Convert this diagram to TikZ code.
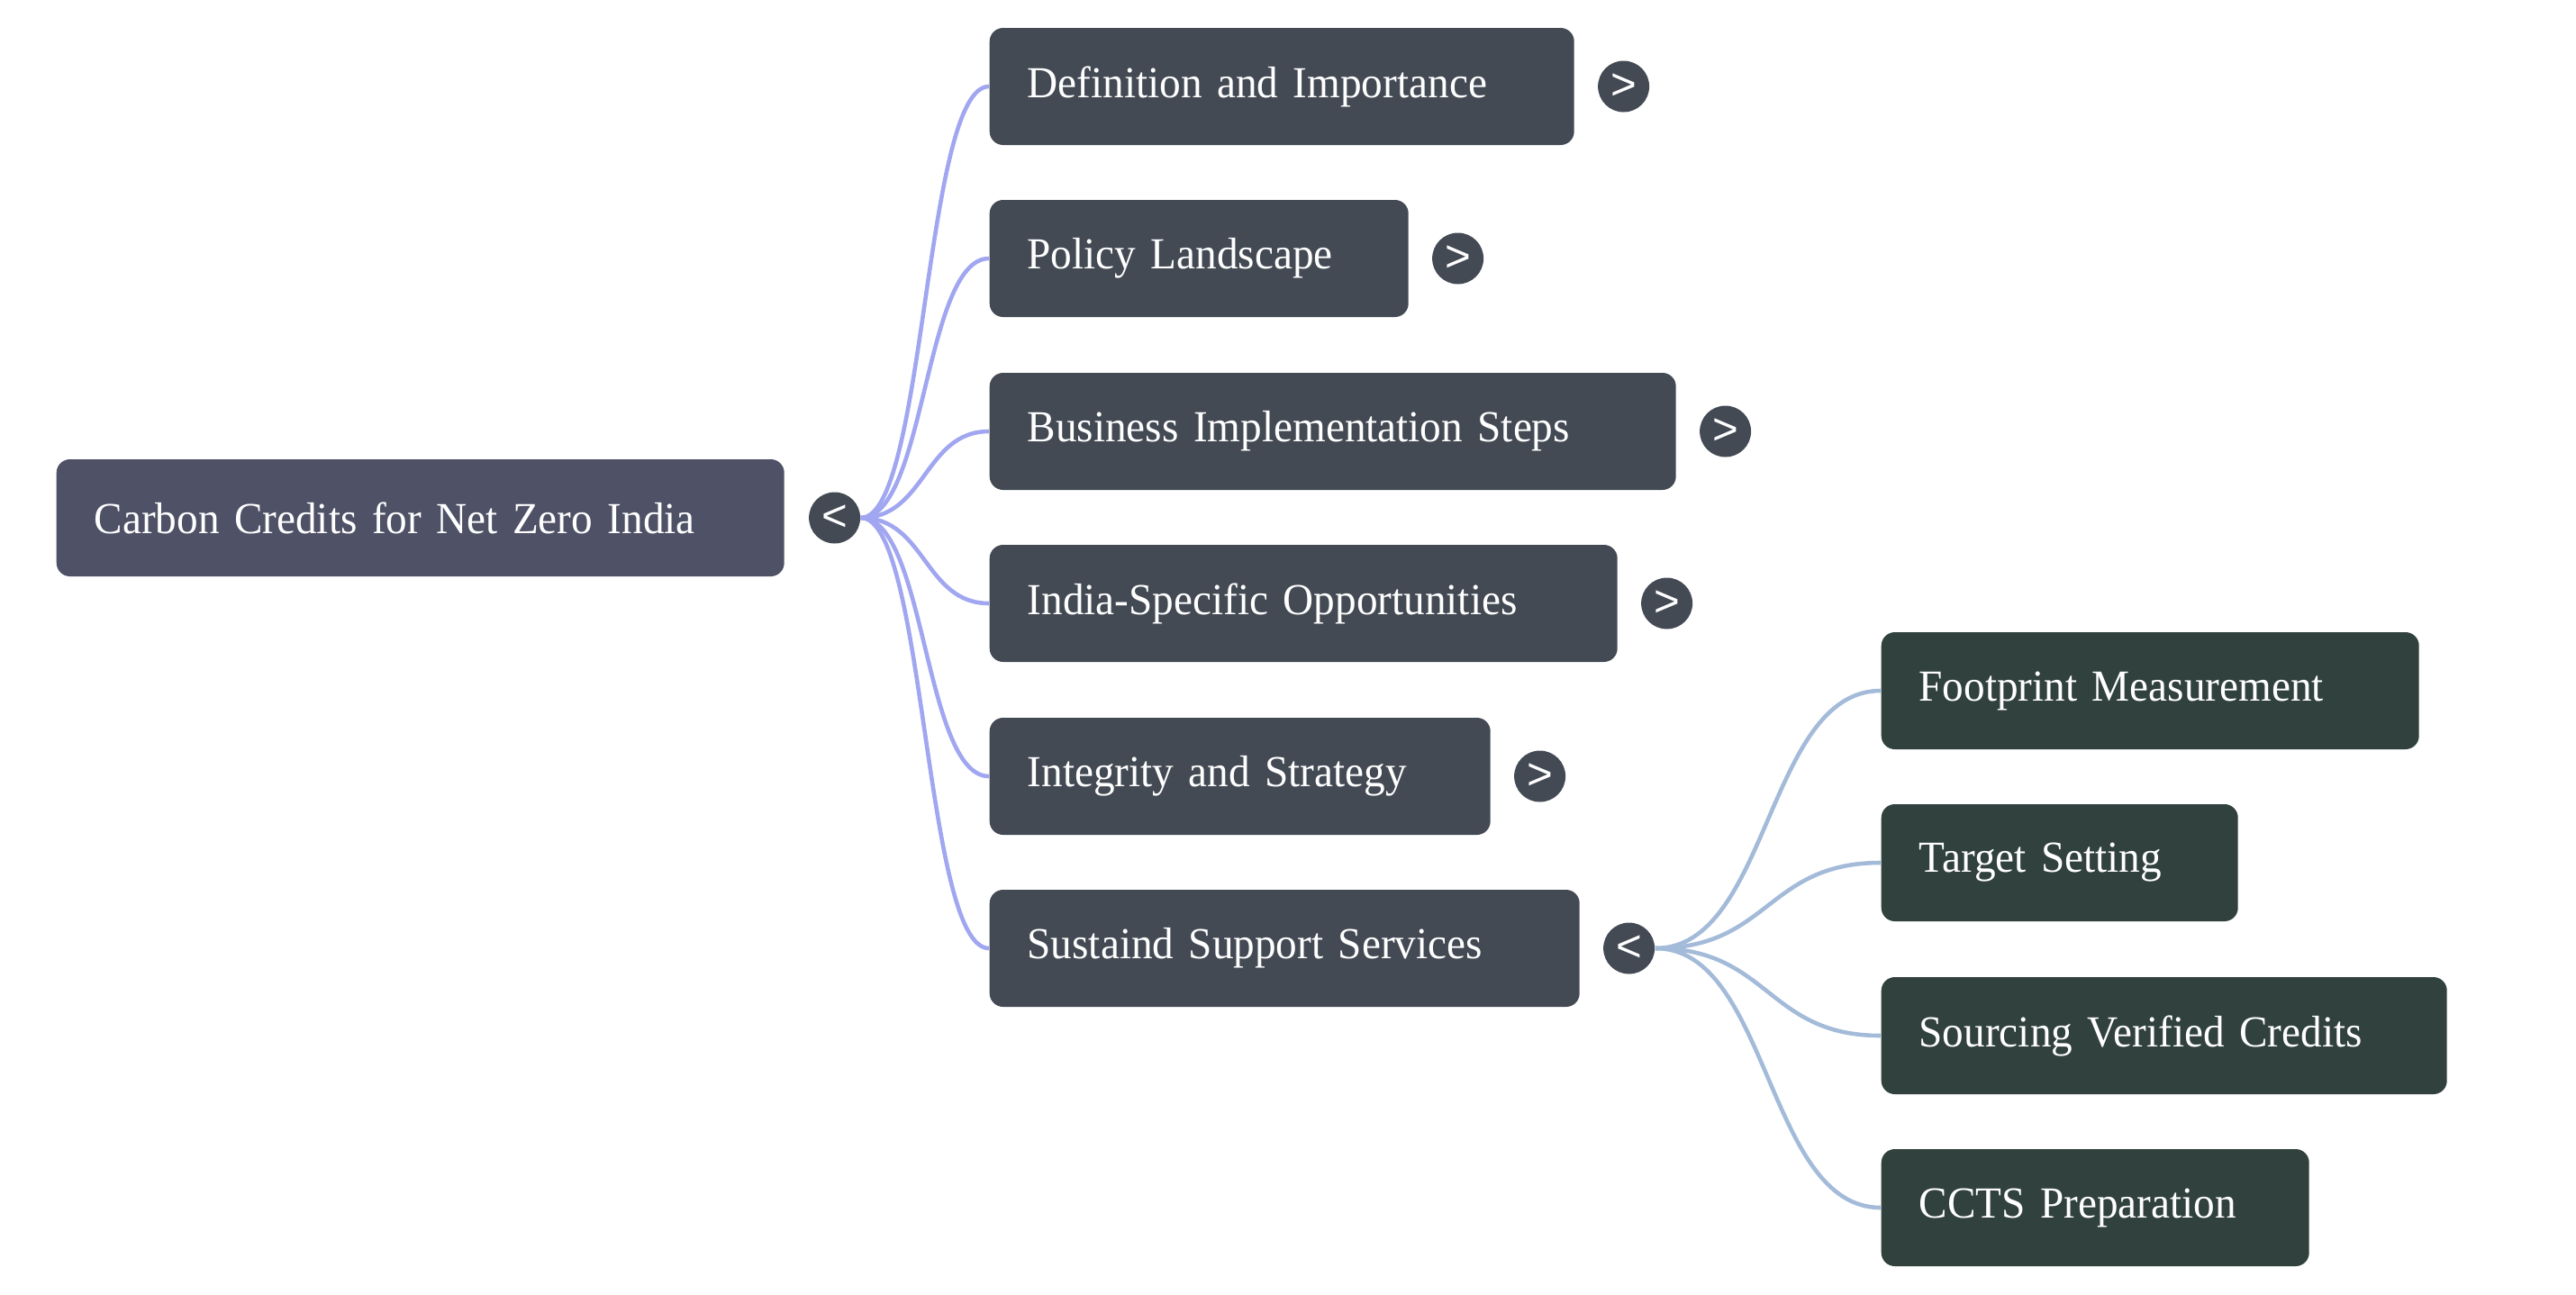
\documentclass[tikz,border=0pt]{standalone}
\usepackage{fontspec}
\setmainfont{Liberation Serif}[FakeStretch=0.96,WordSpace=0.8]
\newfontfamily\togglefont{Liberation Sans}
\usetikzlibrary{positioning}

\definecolor{rootfill}{HTML}{4F5166}
\definecolor{topicfill}{HTML}{434A54}
\definecolor{subfill}{HTML}{31413E}
\definecolor{branchone}{HTML}{A0A6F0}
\definecolor{branchtwo}{HTML}{A3BBD9}

\tikzset{
  box/.style={rectangle,rounded corners=0.15cm,minimum height=1.3cm,inner xsep=0.42cm,
    anchor=west,align=left,text=white,font=\fontsize{14}{17}\selectfont},
  rootbox/.style={box,fill=rootfill},
  topic/.style={box,fill=topicfill},
  subtopic/.style={box,fill=subfill},
  toggle/.style={circle,fill=topicfill,minimum size=0.57cm,inner sep=0pt,text=white,
    font=\togglefont\fontsize{14}{14}\selectfont},
  branch/.style={line width=1.3pt},
}

\begin{document}
\begin{tikzpicture}
	\useasboundingbox (0,0) rectangle (28.6,-14.37);
	% root
	\node[rootbox,text width=7.24cm] (root) at (0.62,-5.75) {Carbon Credits for Net Zero India};
	\node[toggle,right=0.26cm of root] (rootT) {<};
	% first level
	\node[topic,text width=5.65cm] (def) at (10.98,-0.96) {Definition and Importance};
	\node[topic,text width=3.81cm] (policy) at (10.98,-2.87) {Policy Landscape};
	\node[topic,text width=6.78cm] (steps) at (10.98,-4.79) {Business Implementation Steps};
	\node[topic,text width=6.13cm] (india) at (10.98,-6.70) {India-Specific Opportunities};
	\node[topic,text width=4.72cm] (integrity) at (10.98,-8.62) {Integrity and Strategy};
	\node[topic,text width=5.71cm] (support) at (10.98,-10.53) {Sustaind Support Services};
	\node[toggle,right=0.25cm of def] (defT) {>};
	\node[toggle,right=0.25cm of policy] (policyT) {>};
	\node[toggle,right=0.25cm of steps] (stepsT) {>};
	\node[toggle,right=0.25cm of india] (indiaT) {>};
	\node[toggle,right=0.25cm of integrity] (integrityT) {>};
	\node[toggle,right=0.25cm of support] (supportT) {<};
	% second level
	\node[subtopic,text width=5.13cm] (footprint) at (20.88,-7.67) {Footprint Measurement};
	\node[subtopic,text width=3.12cm] (target) at (20.88,-9.58) {Target Setting};
	\node[subtopic,text width=5.44cm] (sourcing) at (20.88,-11.50) {Sourcing Verified Credits};
	\node[subtopic,text width=3.91cm] (ccts) at (20.88,-13.41) {CCTS Preparation};
	% branches
	\foreach \n in {def,policy,steps,india,integrity,support}
		\draw[branch,branchone] (rootT.east) .. controls +(0.72,0) and +(-0.72,0) .. (\n.west);
	\foreach \n in {footprint,target,sourcing,ccts}
		\draw[branch,branchtwo] (supportT.east) .. controls +(1.27,0) and +(-1.27,0) .. (\n.west);
\end{tikzpicture}
\end{document}
